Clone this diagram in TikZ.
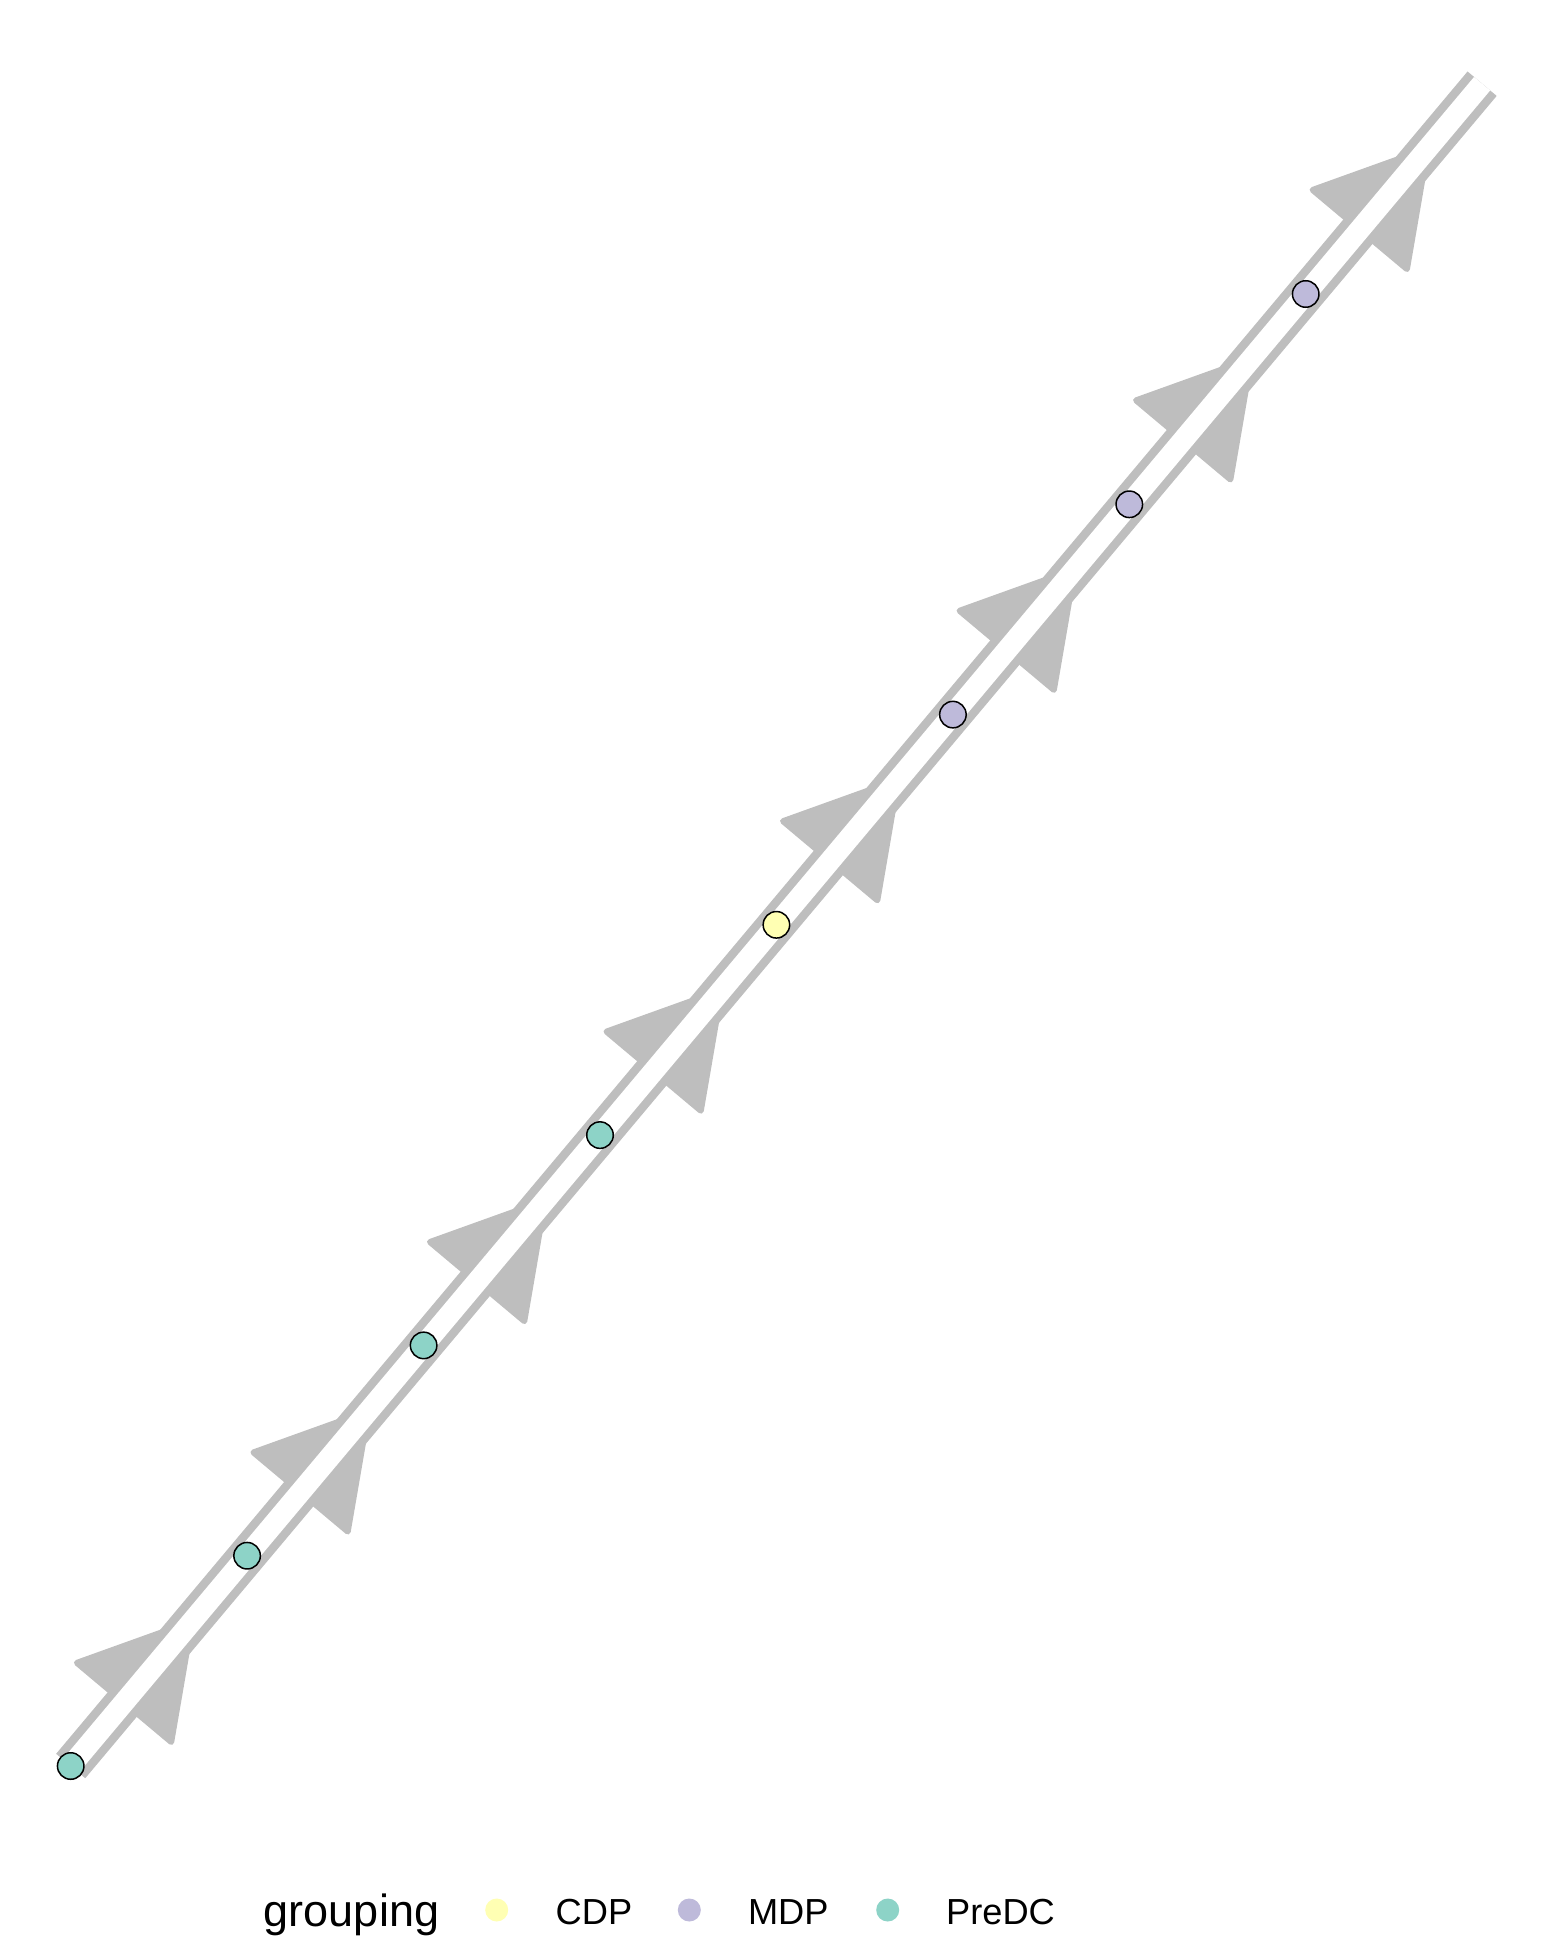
\documentclass[tikz,border=0pt]{standalone}
\usepackage{fontspec}
\setmainfont{Liberation Sans}
\usepackage{xcolor}
\usetikzlibrary{decorations.markings,backgrounds}
\definecolor{trajgray}{HTML}{BEBEBE}
\definecolor{cdpfill}{HTML}{FFFFB3}
\definecolor{mdpfill}{HTML}{BEBADA}
\definecolor{predcfill}{HTML}{8DD3C7}

\tikzset{
    cell/.style={circle, draw=black, line width=0.015cm, inner sep=0pt, minimum size=0.265cm},
    keydot/.style={circle, inner sep=0pt, minimum size=0.23cm},
    keytext/.style={anchor=base west, inner sep=0pt, font=\fontsize{10.3}{12}\selectfont},
    trajarrows/.style={postaction={decorate}, decoration={markings,
        mark=between positions 1.92cm and 21.5cm step 2.745cm with {
            \filldraw[trajgray, line width=0.06cm, line join=round]
                (-0.035cm,0) -- (-1.09cm,0.615cm) -- (-1.09cm,-0.615cm) -- cycle;}}}
}

\begin{document}
\begin{tikzpicture}[x=0.01cm, y=-0.01cm]
    \useasboundingbox (0,0) rectangle (1553,1946);

    % Cells along the trajectory
    \node[cell, fill=predcfill] (cell0) at (70.7,1766) {};
    \node[cell, fill=predcfill] (cell1) at (247.1,1555.7) {};
    \node[cell, fill=predcfill] (cell2) at (423.6,1345.4) {};
    \node[cell, fill=predcfill] (cell3) at (600.0,1135.1) {};
    \node[cell, fill=cdpfill] (cell4) at (776.4,924.8) {};
    \node[cell, fill=mdpfill] (cell5) at (952.9,714.6) {};
    \node[cell, fill=mdpfill] (cell6) at (1129.3,504.3) {};
    \node[cell, fill=mdpfill] (cell7) at (1305.7,294) {};
    \coordinate (trajend) at (1482.1,83.7);

    % Trajectory: grey band with arrows, white core
    \begin{scope}[on background layer]
        \draw[trajgray, line width=0.38cm, trajarrows] (cell0.center) -- (trajend);
        \draw[white, line width=0.21cm] (cell0.center) -- (trajend);
    \end{scope}

    % Legend
    \node[anchor=base west, inner sep=0pt, font=\fontsize{12.8}{15}\selectfont] (keytitle) at (263.2,1926) {grouping};
    \node[keydot, fill=cdpfill] (keycdp) at (496.7,1910) {};
    \node[keytext] (labcdp) at (555,1924.3) {CDP};
    \node[keydot, fill=mdpfill] (keymdp) at (689.3,1910) {};
    \node[keytext] (labmdp) at (747.3,1924.3) {MDP};
    \node[keydot, fill=predcfill] (keypredc) at (887.7,1910) {};
    \node[keytext] (labpredc) at (945.5,1924.3) {PreDC};
\end{tikzpicture}
\end{document}
